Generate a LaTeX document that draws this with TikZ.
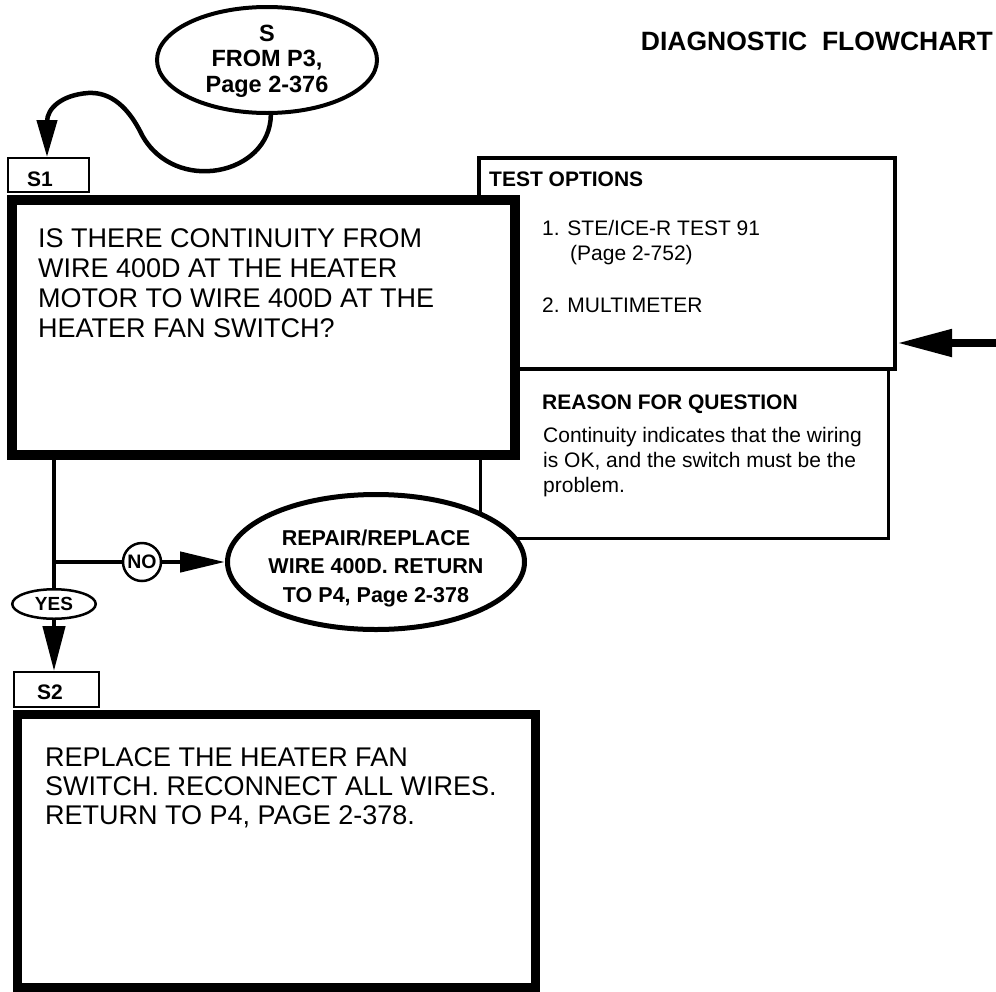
\documentclass[tikz,border=0pt]{standalone}
\usepackage{fontspec}
\setmainfont{Liberation Sans}
\usetikzlibrary{arrows.meta,shapes.geometric}
\begin{document}
\begin{tikzpicture}[x=1pt,y=-1pt,
  box/.style={draw, rectangle, inner sep=0pt, fill=white},
  ell/.style={draw, ellipse, inner sep=0pt, fill=white},
  txt/.style={inner sep=0pt, align=left, anchor=north west},
  ctxt/.style={inner sep=0pt, align=center},
  conn/.style={line width=4.5pt},
  bigtext/.style={font=\fontsize{27}{30}\selectfont},
  smalltext/.style={font=\fontsize{21}{25}\selectfont},
  smallbold/.style={font=\bfseries\fontsize{21}{25}\selectfont},
  lab/.style={inner sep=0pt, anchor=base, font=\bfseries\fontsize{21}{21}\selectfont}
]
\fill[white] (0,0) rectangle (996,991);
\useasboundingbox (0,0) rectangle (996,991);

% title
\node[inner sep=0pt, anchor=north east, font=\bfseries\fontsize{26.5}{26.5}\selectfont] (title) at (993,32) {DIAGNOSTIC\ \ FLOWCHART};

% side boxes
\node[box, line width=3pt, minimum width=408pt, minimum height=169pt] (reas) at (684,453.5) {};
\node[box, line width=4pt, minimum width=416pt, minimum height=211pt] (topt) at (687,263.5) {};
\coordinate (ain) at (996,343);
\draw[line width=8pt, -{Triangle[length=55pt,width=26pt]}] (ain) -- (ain -| topt.east);

\node[txt, smallbold] (tohead) at (489,172) {TEST OPTIONS};
\node[txt, smalltext] (to1) at (542,220) {1. STE/ICE-R TEST 91\\\hspace*{28pt}(Page 2-752)};
\node[txt, smalltext] (to2) at (542,298) {2. MULTIMETER};
\node[txt, smallbold] (rqhead) at (542,395) {REASON FOR QUESTION};
\node[txt, smalltext] (rqbody) at (543,427) {Continuity indicates that the wiring\\is OK, and the switch must be the\\problem.};

% S1
\node[box, line width=10pt, minimum width=503pt, minimum height=255pt] (s1box) at (263.5,327.5) {};
\node[box, line width=2pt, minimum width=81pt, minimum height=34pt] (s1tab) at (48.5,175) {};
\node[lab] (s1lab) at (40,186) {S1};
\node[txt, bigtext] (q1) at (38,228) {IS THERE CONTINUITY FROM\\WIRE 400D AT THE HEATER\\MOTOR TO WIRE 400D AT THE\\HEATER FAN SWITCH?};

% entry ellipse
\node[ell, line width=4pt, minimum width=220pt, minimum height=106pt] (sell) at (267,60) {};
\node[ctxt, font=\bfseries\fontsize{23.5}{25.5}\selectfont] (stxt) at (267,61) {S\\FROM P3,\\Page 2-376};
\coordinate (sx) at (47,122);
\draw[conn, -{Triangle[length=37pt,width=20pt]}] (sell.-86) .. controls (270,175) and (175,195) .. (142,135) .. controls (125,100) and (105,92) .. (88,93) .. controls (62,95) and (47,108) .. (sx) -- (sx |- s1tab.north);

% branches
\coordinate (jn) at (54,562);
\node[ell, line width=2.5pt, minimum width=83.5pt, minimum height=29.5pt, font=\bfseries\fontsize{19}{19}\selectfont] (yes) at (54,604) {YES};
\draw[conn] (s1box.south -| jn) -- (yes.north);
\node[draw, circle, line width=2.5pt, minimum size=38pt, inner sep=0pt, fill=white, font=\bfseries\fontsize{19.5}{19.5}\selectfont] (no) at (142,562) {NO};
\node[ell, line width=5pt, minimum width=297pt, minimum height=135pt] (rep) at (376,562) {};
\node[ctxt, font=\bfseries\fontsize{21.5}{28.5}\selectfont] (reptxt) at (376,568) {REPAIR/REPLACE\\WIRE 400D. RETURN\\TO P4, Page 2-378};
\draw[conn] (jn) -- (no);
\draw[conn, -{Triangle[length=45pt,width=20pt]}] (no) -- (rep);

% S2
\node[box, line width=2pt, minimum width=85pt, minimum height=35pt] (s2tab) at (56.5,689.5) {};
\draw[conn, -{Triangle[length=45pt,width=22pt]}] (yes.south) -- (yes.south |- s2tab.north);
\node[lab] (s2lab) at (50,699) {S2};
\node[box, line width=9pt, minimum width=518pt, minimum height=273pt] (s2box) at (276.5,851) {};
\node[txt, font=\fontsize{27}{29}\selectfont] (q2) at (45,747) {REPLACE THE HEATER FAN\\SWITCH. RECONNECT ALL WIRES.\\RETURN TO P4, PAGE 2-378.};
\end{tikzpicture}
\end{document}
